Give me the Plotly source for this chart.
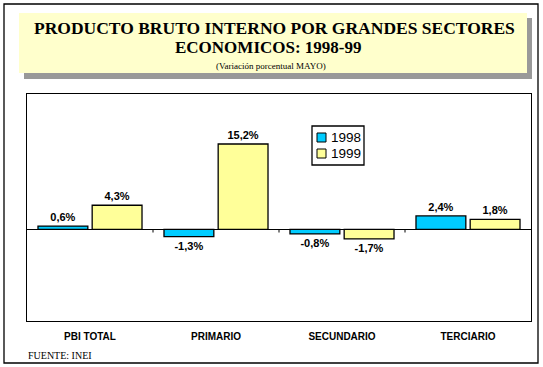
import plotly.graph_objects as go

categories = ["PBI TOTAL", "PRIMARIO", "SECUNDARIO", "TERCIARIO"]
series_names = ["1998", "1999"]
values_1998 = [0.6, -1.3, -0.8, 2.4]
values_1999 = [4.3, 15.2, -1.7, 1.8]
series_colors = ["#00CCFF", "#FFFF99"]

title_line1 = "PRODUCTO BRUTO INTERNO POR GRANDES SECTORES"
title_line2 = "ECONOMICOS: 1998-99"
subtitle = "(Variación porcentual MAYO)"
source_note = "FUENTE: INEI"

W, H = 543, 367


def px(x):
    return x / W


def py(y):
    return 1 - y / H


def fmt(v):
    return f"{v:.1f}".replace(".", ",") + "%"


fig = go.Figure()
for name, vals, col in zip(series_names, [values_1998, values_1999], series_colors):
    fig.add_trace(go.Bar(
        x=categories, y=vals, name=name, showlegend=False,
        marker=dict(color=col, line=dict(color="black", width=1.3)),
        text=[fmt(v) for v in vals], textposition="outside",
        textfont=dict(family="Liberation Sans", size=11, color="black", weight="bold"),
        cliponaxis=False, hoverinfo="skip",
    ))

shapes = []
annotations = []
# outer frame
shapes.append(dict(type="rect", xref="paper", yref="paper", x0=px(4), x1=px(538), y0=py(363), y1=py(4),
                   line=dict(color="black", width=1.3), fillcolor="rgba(0,0,0,0)", layer="below"))
# title shadow + box
shapes.append(dict(type="rect", xref="paper", yref="paper", x0=px(24), x1=px(532), y0=py(79), y1=py(18),
                   line=dict(width=0), fillcolor="#999999", layer="below"))
shapes.append(dict(type="rect", xref="paper", yref="paper", x0=px(19), x1=px(527), y0=py(73), y1=py(13),
                   line=dict(width=0), fillcolor="#FFFFCC", layer="below"))
# small category boundary ticks on zero line
for i in range(1, len(categories)):
    shapes.append(dict(type="line", xref="x", yref="y", x0=i - 0.5, x1=i - 0.5, y0=0, y1=-0.55,
                       line=dict(color="black", width=1)))

# legend box (drawn manually to match the compact original)
leg_x0, leg_x1, leg_y0, leg_y1 = 312, 364, 126, 165
shapes.append(dict(type="rect", xref="paper", yref="paper", x0=px(leg_x0), x1=px(leg_x1),
                   y0=py(leg_y1), y1=py(leg_y0), line=dict(color="black", width=1.3), fillcolor="white"))
for k, (name, col) in enumerate(zip(series_names, series_colors)):
    cy = 137.5 + 16 * k
    shapes.append(dict(type="rect", xref="paper", yref="paper", x0=px(317), x1=px(326),
                       y0=py(cy + 4.5), y1=py(cy - 4.5), line=dict(color="black", width=1), fillcolor=col))
    annotations.append(dict(text=name, x=px(330), y=py(cy), xref="paper", yref="paper", showarrow=False,
                            font=dict(family="Liberation Sans", size=13.5, color="black"),
                            xanchor="left", yanchor="middle", borderpad=0))

annotations += [
    dict(text=f"<b>{title_line1}</b>", x=px(274), y=py(28), xref="paper", yref="paper", showarrow=False,
         font=dict(family="Liberation Serif", size=17.5, color="black"), xanchor="center", yanchor="middle"),
    dict(text=f"<b>{title_line2}</b>", x=px(268), y=py(48), xref="paper", yref="paper", showarrow=False,
         font=dict(family="Liberation Serif", size=17, color="black"), xanchor="center", yanchor="middle"),
    dict(text=subtitle, x=px(271), y=py(66), xref="paper", yref="paper", showarrow=False,
         font=dict(family="Liberation Serif", size=9, color="black"), xanchor="center", yanchor="middle"),
    dict(text=source_note, x=px(26), y=py(355), xref="paper", yref="paper", showarrow=False,
         font=dict(family="Liberation Serif", size=10, color="black"), xanchor="left", yanchor="middle"),
]

fig.update_layout(
    width=W, height=H,
    margin=dict(l=0, r=0, t=0, b=0),
    paper_bgcolor="white", plot_bgcolor="white",
    barmode="group", bargap=0.14, bargroupgap=0.08,
    shapes=shapes, annotations=annotations,
    showlegend=False,
    xaxis=dict(domain=[px(27), px(531)], showgrid=False, showline=True, mirror=True,
               linecolor="black", linewidth=1.3, ticks="outside", ticklen=6, tickcolor="white",
               tickfont=dict(family="Liberation Sans", size=10, color="black", weight="bold")),
    yaxis=dict(domain=[py(321), py(94)], range=[-16.3, 24.1], showgrid=False, showticklabels=False,
               ticks="", showline=True, mirror=True, linecolor="black", linewidth=1.3,
               zeroline=True, zerolinecolor="black", zerolinewidth=1.3),
)

fig.write_html("out.html", config={"displayModeBar": False},
               post_script="document.body.style.margin='0';document.body.style.overflow='hidden';")
